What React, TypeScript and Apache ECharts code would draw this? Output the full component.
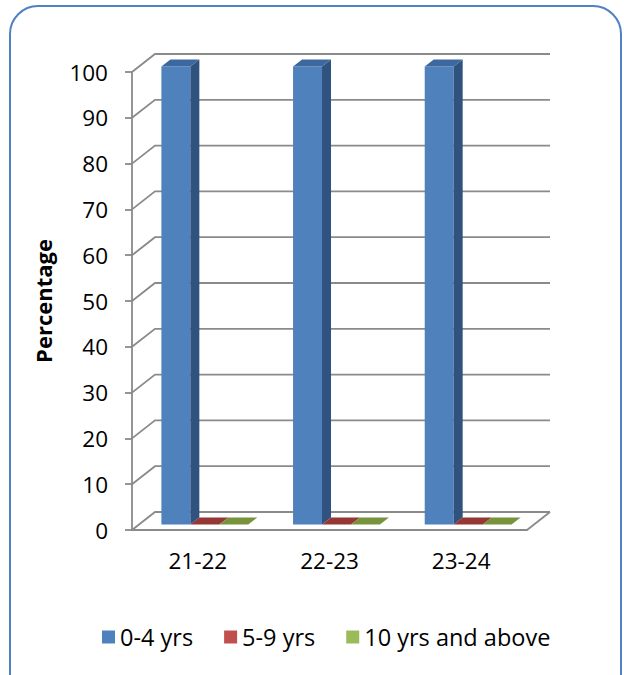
import React, { useEffect, useRef } from "react";
import * as echarts from "echarts";

// Share of children by age group, per year
const categories = ["21-22", "22-23", "23-24"];
const seriesNames = ["0-4 yrs", "5-9 yrs", "10 yrs and above"];
const age0to4 = [100, 100, 100];
const age5to9 = [0, 0, 0];
const age10plus = [0, 0, 0];
const yTicks = [0, 10, 20, 30, 40, 50, 60, 70, 80, 90, 100];

const FONT = "'Open Sans', Lato, sans-serif";
const GRID_COLOR = "#8a8a8a";

// face colours: front, side, top
const palettes = [
  { legend: "#4f81bd", front: "#4f81bd", side: "#30527f", top: "#3d689f" },
  { legend: "#c0504d", front: "#c0504d", side: "#7f2f2d", top: "#953735" },
  { legend: "#9bbb59", front: "#9bbb59", side: "#5f7530", top: "#77933c" },
];

// 3D look: wall depth and bar depth, in pixels
const WALL_DX = 23;
const WALL_DY = -18;
const BAR_FX = 7;
const BAR_FY = -5.5;
const BAR_DX = 9;
const BAR_DY = -7;

export default function App() {
  const ref = useRef<HTMLDivElement>(null);

  useEffect(() => {
    if (!ref.current) return;
    const chart = echarts.init(ref.current, null, { renderer: "svg" });

    const wallSeries = {
      type: "custom",
      name: "walls",
      silent: true,
      z: 1,
      data: yTicks.map((t) => [0, t]),
      renderItem: (params: any, api: any) => {
        const cs = params.coordSys;
        const y = api.coord([0, api.value(1)])[1];
        const x0 = cs.x;
        const x1 = cs.x + cs.width;
        const children: any[] = [
          {
            type: "polyline",
            shape: {
              points: [
                [x0, y],
                [x0 + WALL_DX, y + WALL_DY],
                [x1 + WALL_DX, y + WALL_DY],
              ],
            },
            style: { stroke: GRID_COLOR, lineWidth: 1.8, fill: null },
          },
        ];
        if (api.value(1) === 0) {
          children.push({
            type: "line",
            shape: { x1: x1, y1: y, x2: x1 + WALL_DX, y2: y + WALL_DY },
            style: { stroke: GRID_COLOR, lineWidth: 1.8 },
          });
        }
        return { type: "group", children };
      },
    };

    const makeBarSeries = (s: number, values: number[]) => ({
      type: "custom",
      name: seriesNames[s],
      z: 3,
      itemStyle: { color: palettes[s].legend },
      data: values.map((v, i) => [i, v]),
      renderItem: (params: any, api: any) => {
        const cat = api.value(0);
        const v = api.value(1);
        const base = api.coord([cat, 0]);
        const topY = api.coord([cat, v])[1] + BAR_FY;
        const baseY = base[1] + BAR_FY;
        const band = api.size([1, 0])[0];
        const bw = band * 0.22;
        const x = base[0] - 1.5 * bw + s * bw + BAR_FX;
        const p = palettes[s];
        const children: any[] = [];
        if (baseY - topY > 0.5) {
          children.push({
            type: "rect",
            shape: { x, y: topY, width: bw, height: baseY - topY },
            style: { fill: p.front },
          });
          children.push({
            type: "polygon",
            shape: {
              points: [
                [x + bw, topY],
                [x + bw + BAR_DX, topY + BAR_DY],
                [x + bw + BAR_DX, baseY + BAR_DY],
                [x + bw, baseY],
              ],
            },
            style: { fill: p.side },
          });
        }
        children.push({
          type: "polygon",
          shape: {
            points: [
              [x, topY],
              [x + BAR_DX, topY + BAR_DY],
              [x + bw + BAR_DX, topY + BAR_DY],
              [x + bw, topY],
            ],
          },
          style: { fill: p.top },
        });
        return { type: "group", children };
      },
    });

    chart.setOption({
      animation: false,
      backgroundColor: "#ffffff",
      textStyle: { fontFamily: FONT },
      graphic: [
        {
          type: "rect",
          z: 100,
          shape: { x: 10, y: 6, width: 611, height: 700, r: 28 },
          style: { fill: "none", stroke: "#4f81c4", lineWidth: 2 },
          silent: true,
        },
      ],
      grid: { left: 132, top: 72, width: 395, height: 458 },
      legend: {
        top: 620,
        left: 97,
        icon: "rect",
        itemWidth: 13,
        itemHeight: 13,
        itemGap: 31,
        itemTextGap: 7,
        data: seriesNames,
        textStyle: { fontSize: 23.5, color: "#000", fontFamily: FONT },
      },
      xAxis: {
        type: "category",
        data: categories,
        axisLine: { lineStyle: { color: GRID_COLOR, width: 1.8 } },
        axisTick: { show: false },
        axisLabel: { fontSize: 22.5, color: "#000", margin: 19, fontFamily: FONT },
        splitLine: { show: false },
      },
      yAxis: {
        type: "value",
        min: 0,
        max: 100,
        interval: 10,
        name: "Percentage",
        nameLocation: "middle",
        nameRotate: 90,
        nameGap: 78,
        nameTextStyle: { fontSize: 22, fontWeight: "bold", color: "#000", fontFamily: FONT },
        axisLine: { show: true, lineStyle: { color: GRID_COLOR, width: 1.8 } },
        axisTick: { show: true, length: 7, lineStyle: { color: GRID_COLOR, width: 1.8 } },
        axisLabel: { fontSize: 22.5, color: "#000", margin: 24, fontFamily: FONT },
        splitLine: { show: false },
      },
      series: [
        wallSeries,
        makeBarSeries(0, age0to4),
        makeBarSeries(1, age5to9),
        makeBarSeries(2, age10plus),
      ],
    });

    return () => chart.dispose();
  }, []);

  return (
    <div
      ref={ref}
      style={{ position: "absolute", left: 0, top: 0, width: 624, height: 675 }}
    />
  );
}
